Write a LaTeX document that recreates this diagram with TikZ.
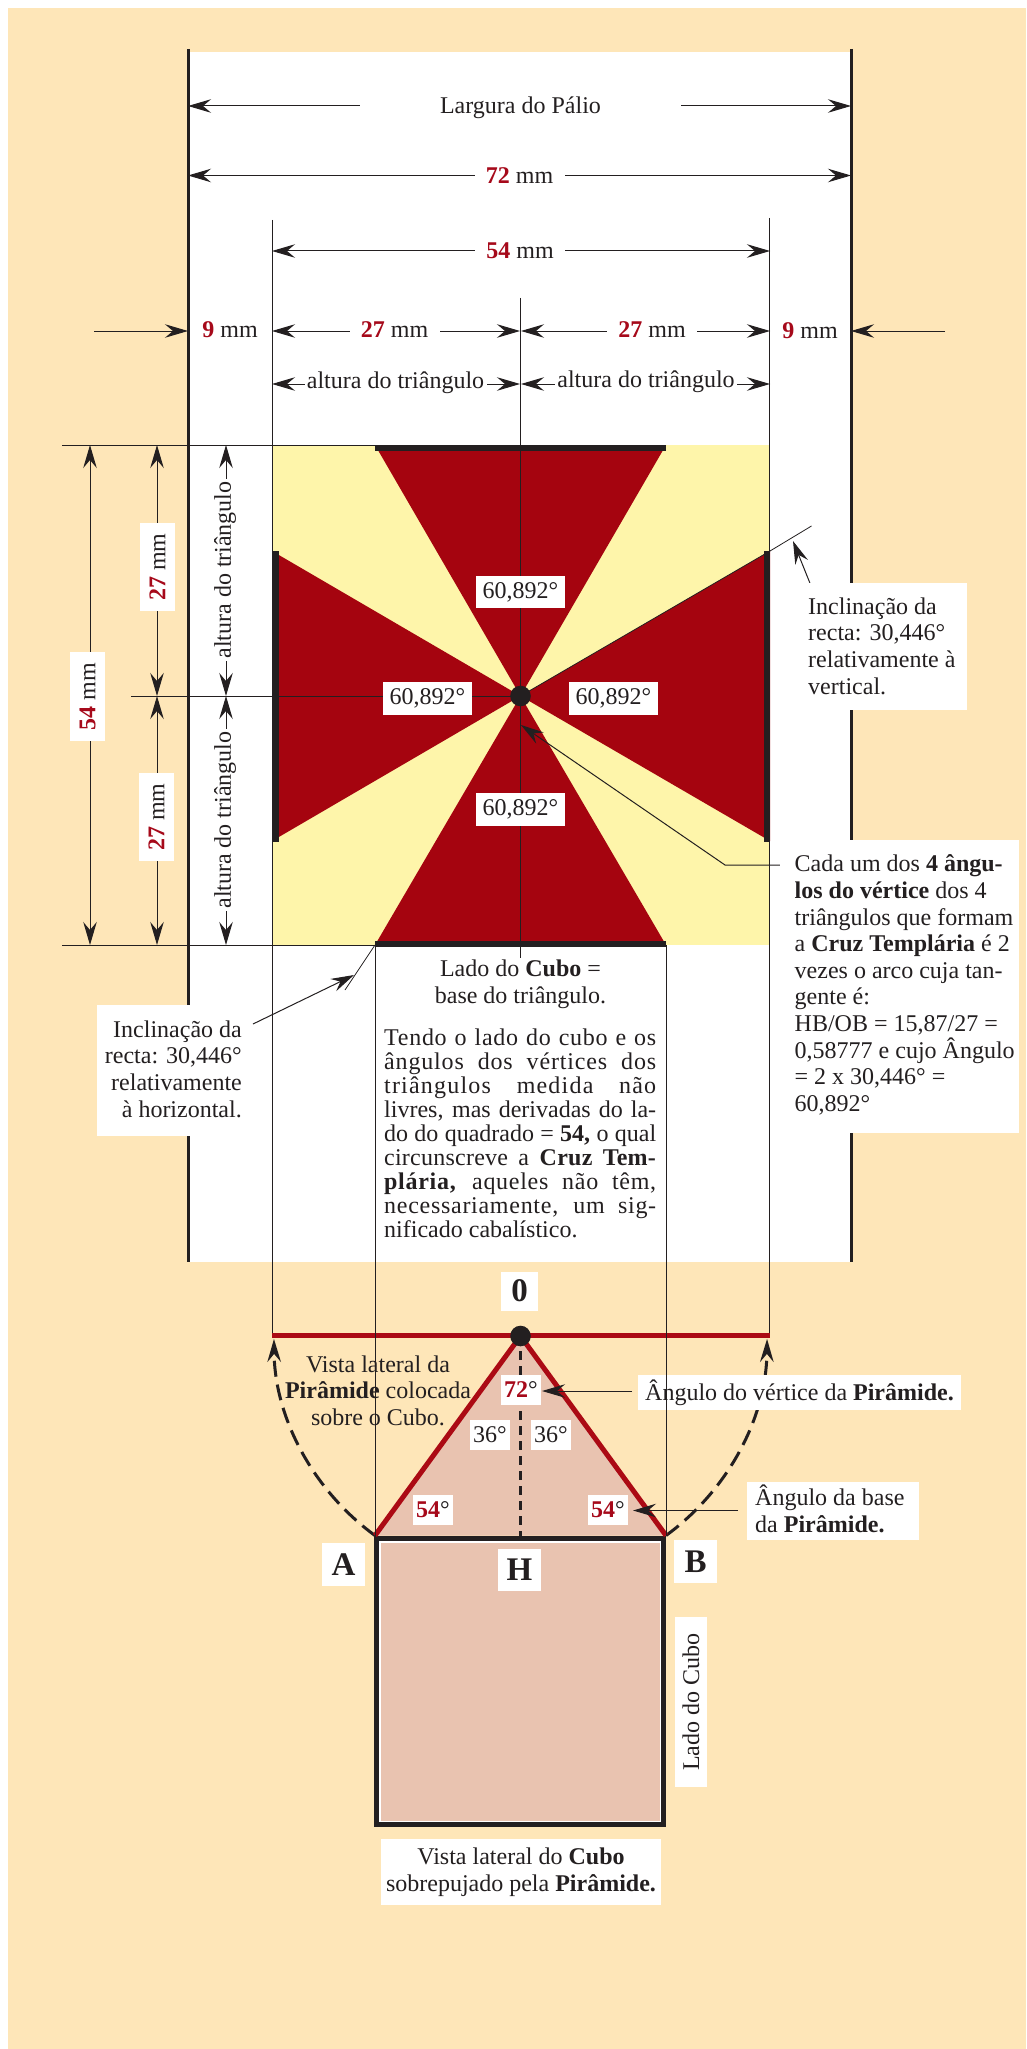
\documentclass[tikz,border=0pt]{standalone}
\usepackage{fontspec}
\setmainfont{Liberation Serif}
\usetikzlibrary{arrows.meta}
\definecolor{ink}{HTML}{231F20}
\definecolor{bgc}{HTML}{FEE6B8}
\definecolor{yel}{HTML}{FEF5AA}
\definecolor{wine}{HTML}{A5040F}
\definecolor{pinkc}{HTML}{E9C3B0}
\definecolor{redln}{HTML}{AB0A14}
\definecolor{redtx}{HTML}{A6091A}
\newcommand{\rb}[1]{\textcolor{redtx}{\textbf{#1}}}
\newcommand{\jl}[2]{\makebox[272pt][s]{\addfontfeature{LetterSpace=#1}#2}\\}
\tikzset{
 x=1pt,y=-1pt,
 tip/.tip={Stealth[length=23pt,width=13.5pt,inset=8pt]},
 both/.style={draw=ink,line width=1pt,{tip}-{tip}},
 toend/.style={draw=ink,line width=1pt,-{tip}},
 hair/.style={draw=ink,line width=.8pt},
 thick wall/.style={draw=ink,line width=3pt},
 bar/.style={draw=ink,line width=6pt},
 lab/.style={fill=white,inner sep=0pt,text=ink,font=\fontsize{24}{26.6}\selectfont,align=center},
 plain/.style={inner sep=0pt,text=ink,font=\fontsize{24}{26.6}\selectfont},
 whitebox/.style={fill=white,inner sep=0pt},
 big/.style={fill=white,inner sep=0pt,text=ink,font=\fontsize{33}{36}\selectfont\bfseries},
}
\begin{document}
\begin{tikzpicture}
\useasboundingbox (0,0) rectangle (1026,2049);
\fill[white] (0,0) rectangle (1026,2049);
\fill[bgc] (8,8) rectangle (1026,2049);
\fill[white] (188,52) rectangle (851,1262);
\fill[yel] (272,445) rectangle (770,945);
\coordinate (O1) at (520.5,696);
\fill[wine] (375,445) -- (666,445) -- (O1) -- cycle;
\fill[wine] (375,945) -- (666,945) -- (O1) -- cycle;
\fill[wine] (272,551) -- (272,841) -- (O1) -- cycle;
\fill[wine] (770,551) -- (770,841) -- (O1) -- cycle;
% coordinates
\foreach \n/\x/\y in {
 wLt/188/49, wLb/188/1262, wRt/851/49, wRb/851/1262,
 l1t/272/220, l1b/272/1335, r1t/769.5/218, r1b/769.5/1335,
 ctop/520.5/298, cbot/520.5/958,
 cubeL/375/945, cubeR/666/945, cubeLb/375/1536, cubeRb/666/1536,
 hT1/62/445, hT2/375/445, hB1/62/945, hB2/375/945, hC1/131/696,
 pA1/188/106, pA2/851/106, pB1/188/175.5, pB2/851/175.5,
 pC1/272/251, pC2/770/251,
 pD1/94/331, pD2/188/331, pD3/945/331, pD4/851/331,
 pE1/272/331, pE2/520/331, pE3/521/331, pE4/770/331,
 pF1/272/384, pF2/520/384, pF3/521/384, pF4/770/384,
 v54t/90/445, v54b/90/945, v27a/157/445, v27b/157/696, v27c/157/696, v27d/157/945,
 vAa/226/445, vAb/226/696, vAc/226/696, vAd/226/945,
 barTL/375/448, barTR/666/448, barBL/375/943.5, barBR/666/943.5,
 barLt/275.5/551, barLb/275.5/842, barRt/767/551, barRb/767/842,
 incU1/770/551, incU2/811.5/526, incU3/811.5/587, incU4/793/541,
 incL1/375/945, incL2/345/990, incL3/253/1024, incL4/354/975,
 lead1/780/865, lead2/725/865, lead3/521/725,
 redL/272/1335.5, redR/770/1335.5,
 O/520.5/1336, A/375/1535.5, B/666/1535.5, H/520.5/1535.5,
 arr72a/632/1391, arr72b/542/1391, arr54a/738/1510.5, arr54b/633/1510.5}
 {\coordinate (\n) at (\x,\y);}
% pyramid and cube
\fill[pinkc] (A) -- (O) -- (B) -- cycle;
\draw[draw=ink,line width=5pt,fill=white] (376.5,1538) rectangle (663.5,1824.5);
\fill[pinkc] (381,1542.5) rectangle (659.5,1820.5);
% bars
\draw[bar] (barTL) -- (barTR);
\draw[bar] (barBL) -- (barBR);
\draw[bar] (barLt) -- (barLb);
\draw[bar] (barRt) -- (barRb);
% walls
\draw[thick wall] (wLt) -- (wLb);
\draw[thick wall] (wRt) -- (wRb);
% long thin lines
\draw[hair] (ctop) -- (cbot);
\draw[hair] (hT1) -- (hT2);
\draw[hair] (hB1) -- (hB2);
\draw[hair] (hC1) -- (O1);
\draw[hair] (incU1) -- (incU2);
\draw[hair] (incL1) -- (incL2);
\draw[hair] (O1) -- (incU1);
% dimension arrows
\draw[both] (pA1) -- (pA2);
\draw[both] (pB1) -- (pB2);
\draw[both] (pC1) -- (pC2);
\draw[toend] (pD1) -- (pD2);
\draw[toend] (pD3) -- (pD4);
\draw[both] (pE1) -- (pE2);
\draw[both] (pE3) -- (pE4);
\draw[both] (pF1) -- (pF2);
\draw[both] (pF3) -- (pF4);
\draw[both] (v54t) -- (v54b);
\draw[both] (v27a) -- (v27b);
\draw[both] (v27c) -- (v27d);
\draw[both] (vAa) -- (vAb);
\draw[both] (vAc) -- (vAd);
\draw[toend] (incU3) -- (incU4);
\draw[toend] (incL3) -- (incL4);
\draw[toend] (lead1) -- (lead2) -- (lead3);
% labels of top rows
\node (tA) [lab,minimum width=321pt,minimum height=30pt] at (520.5,107.5) {Largura do Pálio};
\node (tB) [lab,minimum width=90pt,minimum height=30pt] at (519.5,175.5) {\rb{72} mm};
\node (tC) [lab,minimum width=90pt,minimum height=30pt] at (520,251) {\rb{54} mm};
\node (tD1) [lab,minimum width=70pt,minimum height=30pt] at (230,330) {\rb{9} mm};
\node (tD2) [lab,minimum width=90pt,minimum height=30pt] at (394.5,330) {\rb{27} mm};
\node (tD3) [lab,minimum width=90pt,minimum height=30pt] at (652,330) {\rb{27} mm};
\node (tD4) [lab,minimum width=70pt,minimum height=30pt] at (810,331) {\rb{9} mm};
\node (tE1) [lab,minimum width=182pt,minimum height=30pt] at (395.5,383) {altura do triângulo};
\node (tE2) [lab,minimum width=182pt,minimum height=30pt] at (646,382) {altura do triângulo};
% left rotated labels
\node (s54) [lab,rotate=90,minimum width=89pt,minimum height=35pt] at (87.5,696.5) {\rb{54} mm};
\node (s27a) [lab,rotate=90,minimum width=88.5pt,minimum height=35pt] at (157.5,567) {\rb{27} mm};
\node (s27b) [lab,rotate=90,minimum width=88pt,minimum height=35pt] at (156.5,817) {\rb{27} mm};
\node (sAa) [lab,rotate=90,minimum width=182pt,minimum height=30pt] at (225,570) {altura do triângulo};
\node (sAb) [lab,rotate=90,minimum width=182pt,minimum height=30pt] at (225,820) {altura do triângulo};
% angle labels of the cross
\node (a1) [lab,minimum width=89pt,minimum height=32.5pt] at (520.5,592) {60,892°};
\node (a2) [lab,minimum width=89pt,minimum height=33pt] at (427.5,698.5) {60,892°};
\node (a3) [lab,minimum width=89pt,minimum height=33pt] at (613.5,698.5) {60,892°};
\node (a4) [lab,minimum width=89pt,minimum height=33pt] at (520.5,809.5) {60,892°};
\fill[ink] (O1) circle[radius=10.3pt];
% right boxes
\node (b1) [whitebox,minimum width=168pt,minimum height=127pt] at (883,646.5) {};
\node (b1t) [plain,anchor=west,align=left] at (808,646) {Inclinação da\\recta: 30,446°\\relativamente à\\vertical.};
\node (b2) [whitebox,minimum width=239pt,minimum height=293.5pt] at (899.5,986.5) {};
\node (b2t) [plain,anchor=west,align=left] at (794.5,985) {Cada um dos \textbf{4 ângu-}\\\textbf{los do vértice} dos 4\\triângulos que formam\\a \textbf{Cruz Templária} é 2\\vezes o arco cuja tan-\\gente é:\\HB/OB = 15,87/27 =\\0,58777 e cujo Ângulo\\= 2 x 30,446° =\\60,892°};
% left box
\node (b3) [whitebox,minimum width=153pt,minimum height=131.5pt] at (173.5,1070.25) {};
\node (b3t) [plain,anchor=east,align=right] at (242,1069) {Inclinação da\\recta: 30,446°\\relativamente\\à horizontal.};
% centre text
\node (c1) [plain,align=center] at (520.5,984) {Lado do \textbf{Cubo} =\\base do triângulo.};
\node (c2) [plain,anchor=north west,align=left,font=\fontsize{24}{24}\selectfont] at (384,1028.5) {%
\jl{3}{Tendo o lado do cubo e os}%
\jl{3.5}{ângulos dos vértices dos}%
\jl{5}{triângulos medida não}%
\jl{0}{livres, mas derivadas do la-}%
\jl{0}{do do quadrado = \textbf{54,} o qual}%
\jl{1}{circunscreve a \textbf{Cruz Tem-}}%
\jl{3}{\textbf{plária,} aqueles não têm,}%
\jl{3}{necessariamente, um sig-}%
nificado cabalístico.};
% lower drawing
\node (zero) [big,minimum width=37pt,minimum height=39pt] at (519.5,1291) {0};
\draw[hair] (l1t) -- (l1b);
\draw[hair] (r1t) -- (r1b);
\node (vl) [plain,align=center] at (378,1390.5) {Vista lateral da\\\textbf{Pirâmide} colocada\\sobre o Cubo.};
\draw[draw=ink,line width=3pt,dash pattern=on 16pt off 8pt,-{tip}] (A) arc[start angle=233.9,end angle=180.5,radius=246pt];
\draw[draw=ink,line width=3pt,dash pattern=on 16pt off 8pt,-{tip}] (B) arc[start angle=-53.9,end angle=-0.5,radius=246pt];
\draw[draw=ink,line width=2.5pt,dash pattern=on 9pt off 6pt] (O) -- (H);
\draw[draw=redln,line width=5pt,line join=miter] (A) -- (O) -- (B);
\draw[draw=redln,line width=5pt] (redL) -- (redR);
\fill[ink] (O) circle[radius=10.3pt];
\node (n72) [lab,minimum width=40pt,minimum height=30pt] at (521,1390) {\rb{72}°};
\node (n36a) [lab,minimum width=40pt,minimum height=30pt] at (490,1435) {36°};
\node (n36b) [lab,minimum width=40pt,minimum height=30pt] at (551,1435) {36°};
\node (n54a) [lab,minimum width=40pt,minimum height=30.5pt] at (433,1510) {\rb{54}°};
\node (n54b) [lab,minimum width=40pt,minimum height=30.5pt] at (608,1510) {\rb{54}°};
\node (v72) [lab,minimum width=323pt,minimum height=35pt] at (799.5,1392.5) {Ângulo do vértice da \textbf{Pirâmide.}};
\node (b54) [whitebox,minimum width=172pt,minimum height=58pt] at (833,1511) {};
\node (b54t) [plain,anchor=west,align=left] at (755,1509) {Ângulo da base\\da \textbf{Pirâmide.}};
\draw[hair] (cubeL) -- (cubeLb);
\draw[hair] (cubeR) -- (cubeRb);
\draw[toend] (arr72a) -- (arr72b);
\draw[toend] (arr54a) -- (arr54b);
\node (la) [big,minimum width=43pt,minimum height=43pt] at (343.5,1564.5) {A};
\node (lb) [big,minimum width=43pt,minimum height=43pt] at (695.5,1561.5) {B};
\node (lh) [big,minimum width=43pt,minimum height=42pt] at (519.5,1570) {H};
\node (lc) [lab,rotate=90,minimum width=170pt,minimum height=32pt] at (691,1702) {Lado do Cubo};
\node (vc) [lab,minimum width=280pt,minimum height=66pt] at (521,1872) {Vista lateral do \textbf{Cubo}\\sobrepujado pela \textbf{Pirâmide.}};
\end{tikzpicture}
\end{document}
